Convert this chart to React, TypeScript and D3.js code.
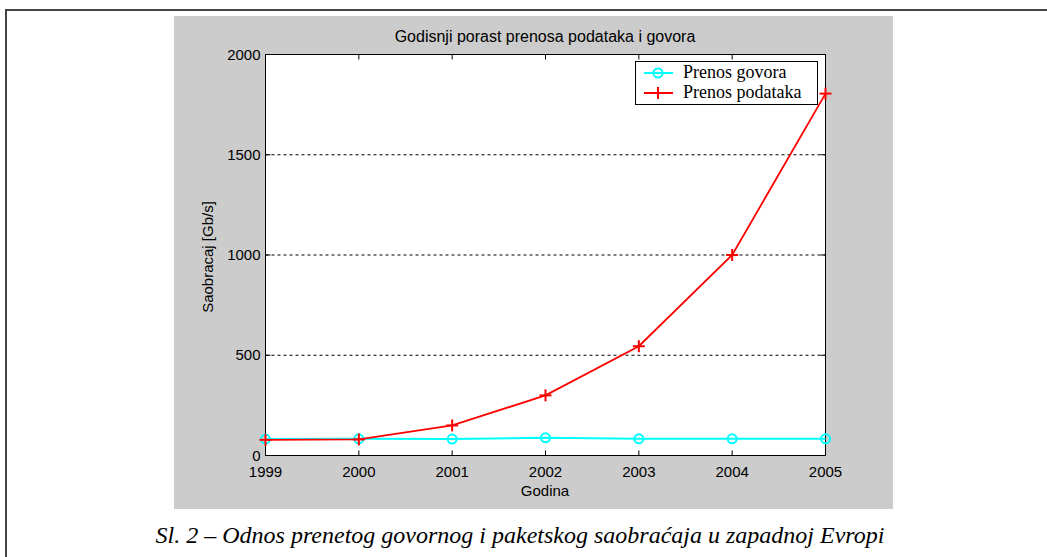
import * as d3 from 'd3';
import React, { useEffect, useRef } from "react";

const years = [1999, 2000, 2001, 2002, 2003, 2004, 2005];
const voice = [82, 83, 82, 88, 83, 83, 83];
const data = [78, 80, 150, 300, 545, 1000, 1805];
const yTicks = [0, 500, 1000, 1500, 2000];
const gridTicks = [500, 1000, 1500];
const seriesNames = ["Prenos govora", "Prenos podataka"];

const App: React.FC = () => {
    const ref = useRef<SVGSVGElement>(null);

    useEffect(() => {
        if (!ref.current) return;
        const width = 1047;
        const height = 557;
        const svg = d3.select(ref.current)
            .attr('width', width)
            .attr('height', height);
        svg.selectAll('*').remove();

        const sans = 'Liberation Sans, Arial, sans-serif';
        const serif = 'Liberation Serif, Times New Roman, serif';

        // page frame (top + left only)
        svg.append('line').attr('x1', 6).attr('x2', width).attr('y1', 10).attr('y2', 10)
            .attr('stroke', '#444').attr('stroke-width', 2);
        svg.append('line').attr('x1', 6).attr('x2', 6).attr('y1', 9).attr('y2', height)
            .attr('stroke', '#444').attr('stroke-width', 2);

        // gray figure background
        svg.append('rect').attr('x', 174).attr('y', 16).attr('width', 719).attr('height', 493)
            .attr('fill', '#cccccc');

        const x = d3.scaleLinear().domain([1999, 2005]).range([265.5, 825.5]);
        const y = d3.scaleLinear().domain([0, 2000]).range([455.5, 54.5]);

        const g = svg.append('g');
        g.append('rect')
            .attr('x', x(1999)).attr('y', y(2000))
            .attr('width', x(2005) - x(1999)).attr('height', y(0) - y(2000))
            .attr('fill', '#fff');

        // dashed grid
        g.selectAll('.grid').data(gridTicks).enter().append('line')
            .attr('x1', x(1999)).attr('x2', x(2005))
            .attr('y1', d => y(d)).attr('y2', d => y(d))
            .attr('stroke', '#000').attr('stroke-width', 1).attr('stroke-dasharray', '3,3');

        // box
        g.append('rect')
            .attr('x', x(1999)).attr('y', y(2000))
            .attr('width', x(2005) - x(1999)).attr('height', y(0) - y(2000))
            .attr('fill', 'none').attr('stroke', '#000').attr('stroke-width', 1);

        // ticks (inward, on all four sides)
        const tl = 5;
        years.forEach(yr => {
            g.append('line').attr('x1', x(yr)).attr('x2', x(yr)).attr('y1', y(0)).attr('y2', y(0) - tl).attr('stroke', '#000');
            g.append('line').attr('x1', x(yr)).attr('x2', x(yr)).attr('y1', y(2000)).attr('y2', y(2000) + tl).attr('stroke', '#000');
            g.append('text').attr('x', x(yr)).attr('y', y(0) + 21)
                .attr('text-anchor', 'middle').attr('font-family', sans).attr('font-size', 15)
                .attr('fill', '#000').text(String(yr));
        });
        yTicks.forEach(v => {
            g.append('line').attr('x1', x(1999)).attr('x2', x(1999) + tl).attr('y1', y(v)).attr('y2', y(v)).attr('stroke', '#000');
            g.append('line').attr('x1', x(2005)).attr('x2', x(2005) - tl).attr('y1', y(v)).attr('y2', y(v)).attr('stroke', '#000');
            g.append('text').attr('x', x(1999) - 5).attr('y', y(v) + 5)
                .attr('text-anchor', 'end').attr('font-family', sans).attr('font-size', 15)
                .attr('fill', '#000').text(String(v));
        });

        // labels
        svg.append('text').attr('x', 545).attr('y', 42).attr('text-anchor', 'middle')
            .attr('font-family', sans).attr('font-size', 16).attr('fill', '#000')
            .text('Godisnji porast prenosa podataka i govora');
        svg.append('text').attr('x', 545).attr('y', 496).attr('text-anchor', 'middle')
            .attr('font-family', sans).attr('font-size', 15).attr('fill', '#000')
            .text('Godina');
        svg.append('text').attr('transform', 'translate(213,257) rotate(-90)').attr('text-anchor', 'middle')
            .attr('font-family', sans).attr('font-size', 15).attr('fill', '#000')
            .text('Saobracaj [Gb/s]');

        const line = d3.line<number>().x((_, i) => x(years[i])).y(d => y(d));

        // voice series
        g.append('path').datum(voice).attr('d', line).attr('fill', 'none')
            .attr('stroke', '#00ffff').attr('stroke-width', 2);
        g.selectAll('.vm').data(voice).enter().append('circle')
            .attr('cx', (_, i) => x(years[i])).attr('cy', d => y(d)).attr('r', 4.5)
            .attr('fill', 'none').attr('stroke', '#00ffff').attr('stroke-width', 2);

        // data series
        g.append('path').datum(data).attr('d', line).attr('fill', 'none')
            .attr('stroke', '#ff0000').attr('stroke-width', 1.8);
        const plus = (sel: d3.Selection<SVGGElement, unknown, null, undefined>, cx: number, cy: number, color: string) => {
            sel.append('line').attr('x1', cx - 6).attr('x2', cx + 6).attr('y1', cy).attr('y2', cy).attr('stroke', color).attr('stroke-width', 2);
            sel.append('line').attr('x1', cx).attr('x2', cx).attr('y1', cy - 6).attr('y2', cy + 6).attr('stroke', color).attr('stroke-width', 2);
        };
        data.forEach((d, i) => plus(g, x(years[i]), y(d), '#ff0000'));

        // legend
        const lg = svg.append('g');
        lg.append('rect').attr('x', 635.5).attr('y', 61.5).attr('width', 182).attr('height', 43)
            .attr('fill', '#fff').attr('stroke', '#000').attr('stroke-width', 1);
        const colors = ['#00ffff', '#ff0000'];
        seriesNames.forEach((name, i) => {
            const ly = 73 + i * 20;
            lg.append('line').attr('x1', 644).attr('x2', 673).attr('y1', ly).attr('y2', ly)
                .attr('stroke', colors[i]).attr('stroke-width', 2);
            if (i === 0) {
                lg.append('circle').attr('cx', 658).attr('cy', ly).attr('r', 4.5)
                    .attr('fill', 'none').attr('stroke', colors[i]).attr('stroke-width', 2);
            } else {
                plus(lg, 658, ly, colors[i]);
            }
            lg.append('text').attr('x', 683).attr('y', ly + 5)
                .attr('font-family', serif).attr('font-size', 18).attr('fill', '#000')
                .text(name);
        });

        // caption
        svg.append('text').attr('x', 520).attr('y', 543).attr('text-anchor', 'middle')
            .attr('font-family', serif).attr('font-style', 'italic').attr('font-size', 24)
            .attr('fill', '#000')
            .text('Sl. 2 – Odnos prenetog govornog i paketskog saobraćaja u zapadnoj Evropi');
    }, []);

    return (<svg ref={ref} style={{ position: 'absolute', left: 0, top: 0 }}></svg>);
}

export default App;
